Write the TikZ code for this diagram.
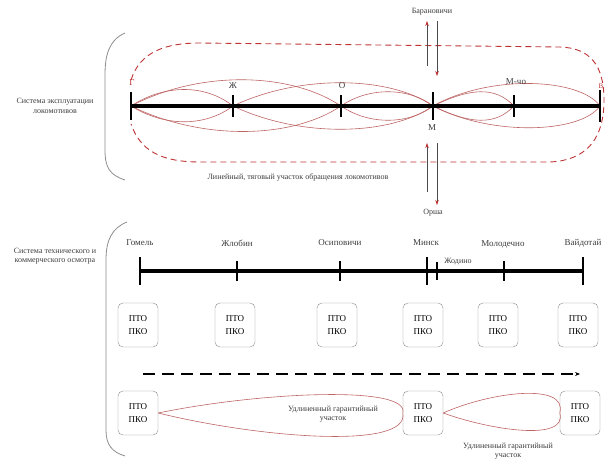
\documentclass[tikz,border=0pt]{standalone}
\usepackage{fontspec}
\setmainfont{Liberation Serif}
\usetikzlibrary{arrows.meta}
\definecolor{lred}{RGB}{190,100,100}
\definecolor{dred}{RGB}{190,50,50}
\definecolor{gtxt}{RGB}{60,60,60}
\begin{document}
\begin{tikzpicture}[x=1pt,y=-1pt,
  small/.style={font=\fontsize{8}{9.5}\selectfont, text=gtxt, align=center, inner sep=0.5pt},
  stn/.style={font=\fontsize{9}{10}\selectfont, text=gtxt, inner sep=0.5pt},
  ptobox/.style={draw=black!45, rounded corners=5pt, minimum width=40pt, minimum height=44pt, align=center, font=\fontsize{9}{13}\selectfont, fill=white, inner sep=0pt},
  rail/.style={line width=4pt},
  tk/.style={line width=1.8pt},
  lens/.style={draw=lred, line width=0.6pt},
  outer/.style={draw=dred, line width=0.9pt, dash pattern=on 6pt off 4pt},
  brace/.style={draw=black!45, line width=0.8pt},
  feed/.style={draw=black!70, line width=0.6pt, -{Stealth[length=5pt,width=3.5pt,color=dred]}}
]
\useasboundingbox (0,0) rectangle (608,463);

% ---------------- top section ----------------
\draw[brace] (125,33) .. controls (109,40) and (105,55) .. (105,75) -- (105,150) .. controls (105,168) and (110,175) .. (125,180);
\node[small] (sysE) at (55,106) {Система эксплуатации\\локомотивов};

\coordinate (G) at (131,106);
\coordinate (Zh) at (233,106);
\coordinate (O) at (341,106);
\coordinate (M) at (433,106);
\coordinate (Mo) at (514,106);
\coordinate (V) at (600,106);

% outer dashed loop
\coordinate (oS) at (131,80);
\coordinate (oE) at (131,124);
\draw[outer] (oS) .. controls (140,52) and (165,43) .. (200,43) -- (560,47)
  .. controls (590,48) and (604,65) .. (604,100) .. controls (604,135) and (590,160) .. (550,162)
  -- (200,162) .. controls (160,162) and (140,150) .. (oE);

% thin lenses
\draw[lens] (G) .. controls (165,84) and (205,84) .. (Zh);
\draw[lens] (G) .. controls (165,127) and (205,127) .. (Zh);
\draw[lens] (G) .. controls (200,70) and (290,72) .. (O);
\draw[lens] (G) .. controls (200,140) and (290,140) .. (O);
\draw[lens] (Zh) .. controls (300,74) and (390,76) .. (M);
\draw[lens] (Zh) .. controls (300,138) and (390,136) .. (M);
\draw[lens] (O) .. controls (370,86) and (410,88) .. (M);
\draw[lens] (O) .. controls (370,126) and (410,124) .. (M);
\draw[lens] (M) .. controls (470,88) and (495,86) .. (Mo);
\draw[lens] (M) .. controls (470,124) and (495,126) .. (Mo);
\draw[lens] (M) .. controls (490,74) and (580,78) .. (V);
\draw[lens] (M) .. controls (490,136) and (580,134) .. (V);

\draw[rail] (G) -- (V);
\draw[tk] (G) ++(0,-14) -- ++(0,28);
\draw[tk] (Zh) ++(0,-11) -- ++(0,22);
\draw[tk] (O) ++(0,-11) -- ++(0,22);
\draw[tk] (M) ++(0,-14) -- ++(0,28);
\draw[tk] (Mo) ++(0,-11) -- ++(0,22);
\draw[tk] (V) ++(0,-16) -- ++(0,32);

\node[stn, text=dred] (lG) at (132,83) {Г};
\node[stn] (lZh) at (233,86) {Ж};
\node[stn] (lO) at (342,86) {О};
\node[stn] (lMo) at (516,82) {М-чо};
\node[stn, text=dred, font=\fontsize{7}{8}\selectfont] (lV) at (601,86) {В};
\node[stn] (lM) at (432,128) {М};

% Baranovichi / Orsha arrows
\coordinate (bA1) at (427,66); \coordinate (bA2) at (427,21);
\coordinate (bB1) at (437,21); \coordinate (bB2) at (437,76);
\draw[feed] (bA1) -- (bA2);
\draw[feed] (bB1) -- (bB2);
\node[small] (bar) at (432,12) {Барановичи};
\coordinate (oA1) at (427,192); \coordinate (oA2) at (427,143);
\coordinate (oB1) at (437,143); \coordinate (oB2) at (437,205);
\draw[feed] (oA1) -- (oA2);
\draw[feed] (oB1) -- (oB2);
\node[small] (orsha) at (433,213) {Орша};

\node[small] (lin) at (298,177) {Линейный, тяговый участок обращения локомотивов};

% ---------------- bottom section ----------------
\draw[brace] (127,222) .. controls (112,228) and (106,240) .. (106,260) -- (106,430) .. controls (106,445) and (112,452) .. (125,456);
\node[small] (sysT) at (55,256) {Система технического и\\коммерческого осмотра};

\coordinate (sGm) at (140,271);
\coordinate (sZl) at (237,271);
\coordinate (sOs) at (340,271);
\coordinate (sMn) at (427,271);
\coordinate (sZd) at (437,271);
\coordinate (sMl) at (504,271);
\coordinate (sVd) at (583,271);
\draw[rail] (sGm) -- (sVd);
\draw[tk] (sGm) ++(0,-14) -- ++(0,28);
\draw[tk] (sZl) ++(0,-10) -- ++(0,20);
\draw[tk] (sOs) ++(0,-10) -- ++(0,20);
\draw[tk] (sMn) ++(0,-14) -- ++(0,28);
\draw[line width=1.2pt] (sZd) ++(0,-9) -- ++(0,18);
\draw[tk] (sMl) ++(0,-10) -- ++(0,20);
\draw[tk] (sVd) ++(0,-14) -- ++(0,28);

\node[stn] (tGm) at (140,243) {Гомель};
\node[stn] (tZl) at (237,243) {Жлобин};
\node[stn] (tOs) at (340,243) {Осиповичи};
\node[stn] (tMn) at (426,243) {Минск};
\node[stn] (tMl) at (503,244) {Молодечно};
\node[stn] (tVd) at (583,243) {Вайдотай};
\node[small] (tZd) at (458,262) {Жодино};

\node[ptobox] (p1) at (138,325) {ПТО\\ПКО};
\node[ptobox] (p2) at (235,325) {ПТО\\ПКО};
\node[ptobox] (p3) at (337,325) {ПТО\\ПКО};
\node[ptobox] (p4) at (423,325) {ПТО\\ПКО};
\node[ptobox] (p5) at (498,325) {ПТО\\ПКО};
\node[ptobox] (p6) at (578,325) {ПТО\\ПКО};

\coordinate (dA) at (143,374);
\coordinate (dB) at (580,374);
\draw[line width=1.6pt, dash pattern=on 12pt off 7pt, -{Stealth[length=5pt,width=4pt]}] (dA) -- (dB);

\node[ptobox] (q1) at (138,413) {ПТО\\ПКО};
\node[ptobox] (q2) at (423,413) {ПТО\\ПКО};
\node[ptobox] (q3) at (580,413) {ПТО\\ПКО};

\draw[lens] (q1.east) .. controls (260,392) and (410,385) .. (q2.west);
\draw[lens] (q1.east) .. controls (260,438) and (410,450) .. (q2.west);
\draw[lens] (q2.east) .. controls (490,392) and (568,382) .. (q3.west);
\draw[lens] (q2.east) .. controls (490,430) and (568,442) .. (q3.west);

\node[small] (u1) at (333,414) {Удлиненный гарантийный\\участок};
\node[small] (u2) at (508,451) {Удлиненный гарантийный\\участок};
\end{tikzpicture}
\end{document}
